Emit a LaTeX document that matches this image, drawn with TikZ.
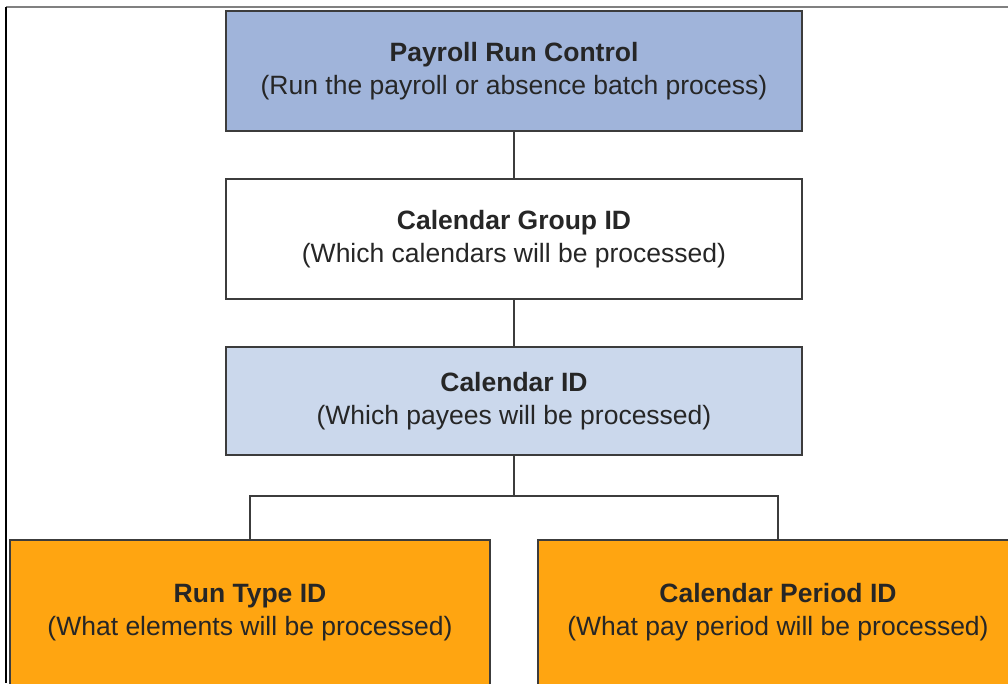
\documentclass[tikz,border=0pt]{standalone}
\usepackage{fontspec}
\setmainfont{Liberation Sans}
\usepackage{tikz}
\usetikzlibrary{positioning,calc}
\definecolor{runblue}{HTML}{A0B4DA}
\definecolor{calblue}{HTML}{CBD8EC}
\definecolor{leaforange}{HTML}{FFA511}
\definecolor{edgegray}{HTML}{3C3C3C}

\begin{document}
\begin{tikzpicture}[font=\fontsize{26.5}{33}\selectfont,
  levelbox/.style={draw=edgegray, line width=2.4pt, align=center, text=black!85,
    minimum width=576pt, minimum height=120pt, inner sep=0pt, outer sep=0pt},
  leafbox/.style={levelbox, fill=leaforange, minimum width=480pt, minimum height=145pt},
  link/.style={draw=edgegray, line width=2pt}]
\useasboundingbox (0,0) rectangle (1008pt,-683pt);
\draw[gray, line width=1.5pt] (6pt,-7pt) -- (1008pt,-7pt);
\draw[black, line width=1.5pt] (6pt,-7pt) -- (6pt,-683pt);
\node[levelbox, fill=runblue] (run) at (514pt,-71pt) {\textbf{Payroll Run Control}\\(Run the payroll or absence batch process)};
\node[levelbox, fill=white, below=48pt of run] (group) {\textbf{Calendar Group ID}\\(Which calendars will be processed)};
\draw[link] (run) -- (group);
\node[levelbox, fill=calblue, minimum height=108pt, below=48pt of group] (cal) {\textbf{Calendar ID}\\(Which payees will be processed)};
\draw[link] (group) -- (cal);
\coordinate (split) at ($(cal.south)+(0,-41pt)$);
\node[leafbox, anchor=north] (runtype) at ($(cal.south)+(-264pt,-85pt)$) {\textbf{Run Type ID}\\(What elements will be processed)};
\node[leafbox, anchor=north] (period) at ($(cal.south)+(264pt,-85pt)$) {\textbf{Calendar Period ID}\\(What pay period will be processed)};
\draw[link] (cal) -- (split);
\draw[link] (split) -| (runtype.north);
\draw[link] (split) -| (period.north);
\end{tikzpicture}
\end{document}
